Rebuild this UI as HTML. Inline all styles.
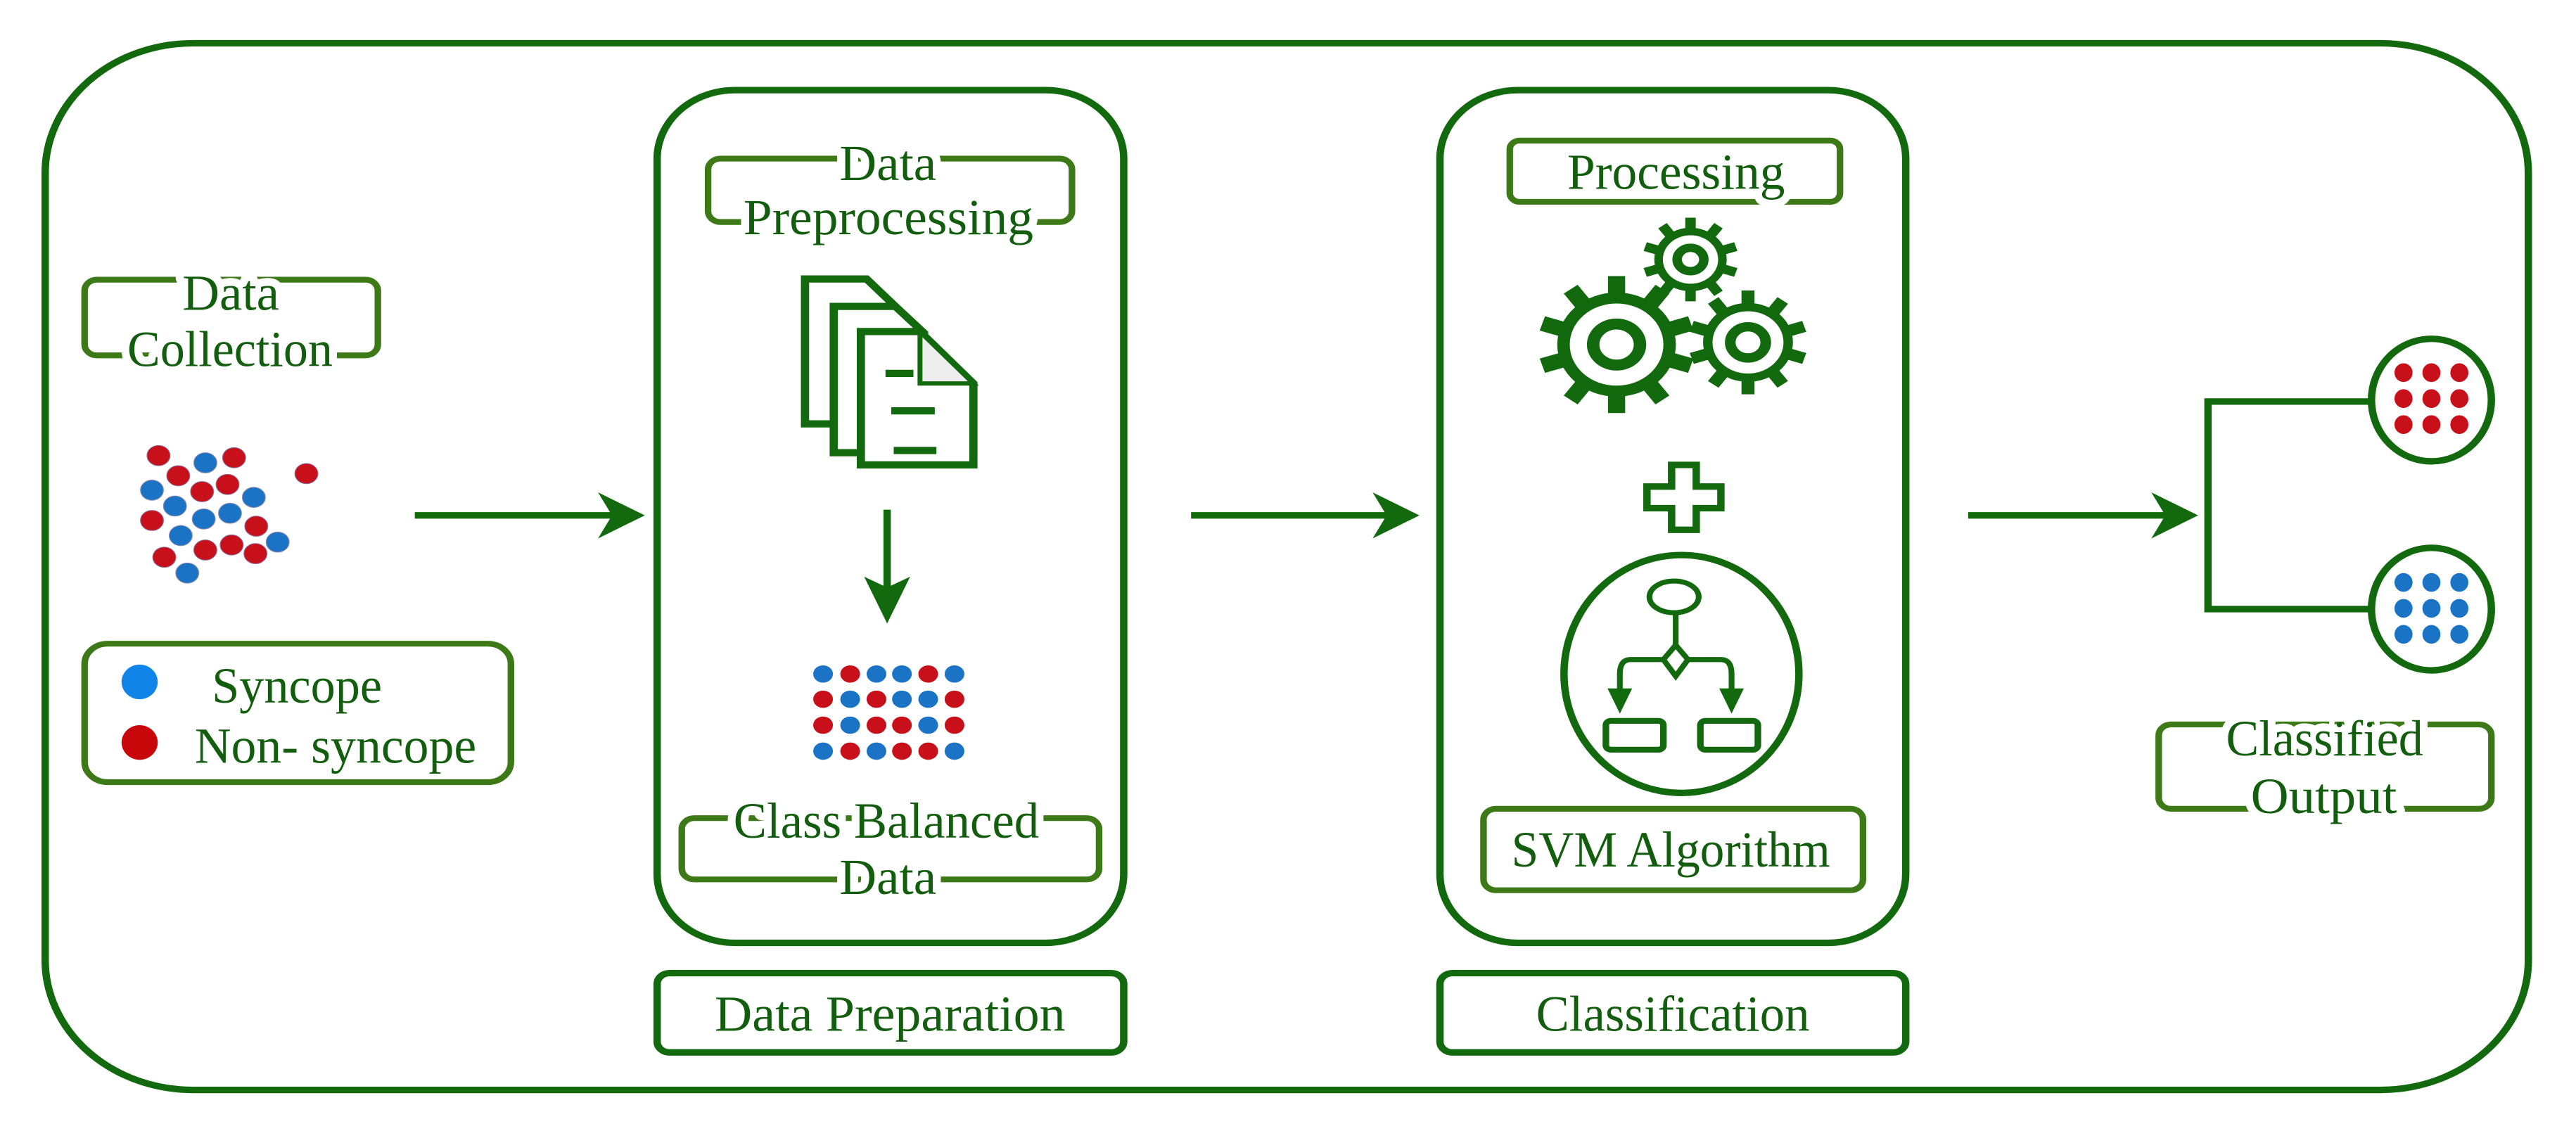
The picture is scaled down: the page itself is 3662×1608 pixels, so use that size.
<!DOCTYPE html>
<html><head><meta charset="utf-8"><style>
html,body{margin:0;padding:0;background:#fff;}
svg{display:block;}
text{font-family:"Liberation Serif",serif;fill:#135e0e;font-size:70px;}
.bg{paint-order:stroke;stroke:#fff;stroke-width:22px;stroke-linejoin:round;}
</style></head><body>
<svg width="3662" height="1608" viewBox="0 0 3136 1569" preserveAspectRatio="none" xmlns="http://www.w3.org/2000/svg">
<defs>
<g id="tooth"><rect x="-11" y="-100" width="22" height="30"/></g>
</defs>
<g fill="none" stroke="#13690e" stroke-width="9">
<rect x="55" y="60" width="3023" height="1452" rx="180" ry="180"/>
<rect x="800" y="125" width="568" height="1183" rx="95" ry="95"/>
<rect x="1753" y="125" width="567" height="1183" rx="95" ry="95"/>
<rect x="800" y="1350" width="568" height="110" rx="15"/>
<rect x="1753" y="1350" width="567" height="110" rx="15"/>
</g>
<g fill="none" stroke="#3d7a17" stroke-width="8">
<rect x="103" y="388" width="357" height="105" rx="15"/>
<rect x="103" y="893" width="519" height="192" rx="28"/>
<rect x="862" y="220" width="443" height="88" rx="15"/>
<rect x="830" y="1135" width="508" height="85" rx="15"/>
<rect x="1838" y="195" width="402" height="85" rx="12"/>
<rect x="1806" y="1122" width="462" height="113" rx="15"/>
<rect x="2628" y="1005" width="405" height="117" rx="15"/>
</g>
<!-- texts -->
<text class="bg" x="222" y="430" textLength="118" lengthAdjust="spacingAndGlyphs">Data</text>
<text class="bg" x="155" y="508" textLength="250" lengthAdjust="spacingAndGlyphs">Collection</text>
<text x="258" y="975" textLength="207" lengthAdjust="spacingAndGlyphs">Syncope</text>
<text x="237" y="1058" textLength="343" lengthAdjust="spacingAndGlyphs">Non- syncope</text>
<text class="bg" x="1022" y="250" textLength="118" lengthAdjust="spacingAndGlyphs">Data</text>
<text class="bg" x="905" y="325" textLength="353" lengthAdjust="spacingAndGlyphs">Preprocessing</text>
<text class="bg" x="893" y="1162" textLength="372" lengthAdjust="spacingAndGlyphs">Class Balanced</text>
<text class="bg" x="1022" y="1240" textLength="118" lengthAdjust="spacingAndGlyphs">Data</text>
<text x="870" y="1430" textLength="427" lengthAdjust="spacingAndGlyphs">Data Preparation</text>
<text x="1870" y="1430" textLength="333" lengthAdjust="spacingAndGlyphs">Classification</text>
<text class="bg" x="1908" y="262" textLength="265" lengthAdjust="spacingAndGlyphs">Processing</text>
<text x="1840" y="1202" textLength="388" lengthAdjust="spacingAndGlyphs">SVM Algorithm</text>
<text class="bg" x="2710" y="1048" textLength="240" lengthAdjust="spacingAndGlyphs">Classified</text>
<text class="bg" x="2740" y="1128" textLength="178" lengthAdjust="spacingAndGlyphs">Output</text>
<!-- legend dots -->
<ellipse cx="170" cy="946" rx="22" ry="24" fill="#1184ea"/>
<ellipse cx="170" cy="1030" rx="22" ry="24" fill="#c8070b"/>
<!-- scatter -->
<g fill="#c8101a" stroke="#8a6a9a" stroke-width="1">
<circle cx="193" cy="632" r="14"/><circle cx="285" cy="635" r="14"/><circle cx="217" cy="660" r="14"/><circle cx="246" cy="682" r="14"/><circle cx="277" cy="672" r="14"/><circle cx="185" cy="722" r="14"/><circle cx="312" cy="730" r="14"/><circle cx="200" cy="773" r="14"/><circle cx="250" cy="763" r="14"/><circle cx="282" cy="756" r="14"/><circle cx="311" cy="768" r="14"/><circle cx="373" cy="657" r="14"/>
</g>
<g fill="#1a73c4" stroke="#8a8ab0" stroke-width="1">
<circle cx="250" cy="642" r="14"/><circle cx="185" cy="680" r="14"/><circle cx="213" cy="702" r="14"/><circle cx="248" cy="720" r="14"/><circle cx="280" cy="712" r="14"/><circle cx="309" cy="690" r="14"/><circle cx="220" cy="743" r="14"/><circle cx="338" cy="752" r="14"/><circle cx="228" cy="795" r="14"/>
</g>
<!-- arrows -->
<g fill="#13690e" stroke="#13690e" stroke-width="9">
<line x1="505" y1="715" x2="745" y2="715"/>
<line x1="1450" y1="715" x2="1695" y2="715"/>
<line x1="2396" y1="715" x2="2640" y2="715"/>
<line x1="1080" y1="707" x2="1080" y2="820"/>
</g>
<g fill="#13690e">
<polygon points="728,683 785,715 728,747 745,715"/>
<polygon points="1671,683 1728,715 1671,747 1688,715"/>
<polygon points="2619,683 2676,715 2619,747 2636,715"/>
<polygon points="1052,800 1080,865 1108,800 1080,815"/>
</g>
<!-- documents -->
<g stroke="#13690e" stroke-width="10" fill="#fff" stroke-linejoin="miter">
<path d="M980 387 H1055 L1090 425 V588 H980 Z"/>
<path d="M1015 425 H1090 L1125 462 V628 H1015 Z"/>
<path d="M1048 460 H1120 L1185 532 V645 H1048 Z"/>
<path d="M1120 460 V532 H1185 Z" fill="#eee" stroke-width="6"/>
<line x1="1078" y1="518" x2="1112" y2="518"/>
<line x1="1085" y1="570" x2="1138" y2="570"/>
<line x1="1088" y1="625" x2="1140" y2="625"/>
</g>
<!-- grid -->
<g>
<circle cx="1002" cy="935" r="12" fill="#1a73c4"/><circle cx="1035" cy="935" r="12" fill="#c8101a"/><circle cx="1067" cy="935" r="12" fill="#1a73c4"/><circle cx="1098" cy="935" r="12" fill="#1a73c4"/><circle cx="1130" cy="935" r="12" fill="#c8101a"/><circle cx="1162" cy="935" r="12" fill="#1a73c4"/>
<circle cx="1002" cy="970" r="12" fill="#c8101a"/><circle cx="1035" cy="970" r="12" fill="#1a73c4"/><circle cx="1067" cy="970" r="12" fill="#c8101a"/><circle cx="1098" cy="970" r="12" fill="#1a73c4"/><circle cx="1130" cy="970" r="12" fill="#1a73c4"/><circle cx="1162" cy="970" r="12" fill="#c8101a"/>
<circle cx="1002" cy="1006" r="12" fill="#c8101a"/><circle cx="1035" cy="1006" r="12" fill="#1a73c4"/><circle cx="1067" cy="1006" r="12" fill="#c8101a"/><circle cx="1098" cy="1006" r="12" fill="#c8101a"/><circle cx="1130" cy="1006" r="12" fill="#1a73c4"/><circle cx="1162" cy="1006" r="12" fill="#c8101a"/>
<circle cx="1002" cy="1042" r="12" fill="#1a73c4"/><circle cx="1035" cy="1042" r="12" fill="#c8101a"/><circle cx="1067" cy="1042" r="12" fill="#1a73c4"/><circle cx="1098" cy="1042" r="12" fill="#c8101a"/><circle cx="1130" cy="1042" r="12" fill="#c8101a"/><circle cx="1162" cy="1042" r="12" fill="#1a73c4"/>
</g>
<!-- gears -->
<g fill="#13690e">
<g transform="translate(1968,478) scale(0.95)">
<g id="gearT"><use href="#tooth"/><use href="#tooth" transform="rotate(36)"/><use href="#tooth" transform="rotate(72)"/><use href="#tooth" transform="rotate(108)"/><use href="#tooth" transform="rotate(144)"/><use href="#tooth" transform="rotate(180)"/><use href="#tooth" transform="rotate(216)"/><use href="#tooth" transform="rotate(252)"/><use href="#tooth" transform="rotate(288)"/><use href="#tooth" transform="rotate(324)"/></g>
<circle r="76"/><circle r="60" fill="#fff"/><circle r="30" fill="none" stroke="#13690e" stroke-width="16"/>
</g>
<g transform="translate(2128,475) scale(0.72)">
<use href="#gearT"/><circle r="76"/><circle r="60" fill="#fff"/><circle r="30" fill="none" stroke="#13690e" stroke-width="18"/>
</g>
<g transform="translate(2058,360) scale(0.58)">
<use href="#gearT"/><circle r="76"/><circle r="58" fill="#fff"/><circle r="28" fill="none" stroke="#13690e" stroke-width="20"/>
</g>
</g>
<!-- plus -->
<path d="M2035 645 H2065 V675 H2095 V705 H2065 V735 H2035 V705 H2005 V675 H2035 Z" fill="#fff" stroke="#13690e" stroke-width="9"/>
<!-- flowchart circle -->
<g fill="none" stroke="#13690e" stroke-width="9">
<ellipse cx="2047" cy="935" rx="143" ry="165"/>
<ellipse cx="2038" cy="828" rx="30" ry="22" stroke-width="7"/>
<line x1="2040" y1="850" x2="2040" y2="895" stroke-width="7"/>
<path d="M2040 895 L2055 915 L2040 938 L2025 915 Z" stroke-width="7"/>
<path d="M2025 915 H1985 Q1972 915 1972 935 V965" stroke-width="7"/>
<path d="M2055 915 H2095 Q2108 915 2108 935 V965" stroke-width="7"/>
<rect x="1955" y="1000" width="70" height="40" rx="6" stroke-width="8"/>
<rect x="2070" y="1000" width="70" height="40" rx="6" stroke-width="8"/>
</g>
<g fill="#13690e">
<polygon points="1957,955 1972,990 1987,955"/>
<polygon points="2093,955 2108,990 2123,955"/>
</g>
<!-- tree -->
<g fill="none" stroke="#13690e" stroke-width="9">
<polyline points="2886,557 2688,557 2688,845 2886,845"/>
<ellipse cx="2960" cy="555" rx="73" ry="85"/>
<ellipse cx="2960" cy="845" rx="73" ry="85"/>
</g>
<g fill="#c8101a">
<ellipse cx="2926" cy="517" rx="11" ry="13"/><ellipse cx="2960" cy="517" rx="11" ry="13"/><ellipse cx="2994" cy="517" rx="11" ry="13"/>
<ellipse cx="2926" cy="553" rx="11" ry="13"/><ellipse cx="2960" cy="553" rx="11" ry="13"/><ellipse cx="2994" cy="553" rx="11" ry="13"/>
<ellipse cx="2926" cy="589" rx="11" ry="13"/><ellipse cx="2960" cy="589" rx="11" ry="13"/><ellipse cx="2994" cy="589" rx="11" ry="13"/>
</g>
<g fill="#1a73c4">
<ellipse cx="2926" cy="808" rx="11" ry="13"/><ellipse cx="2960" cy="808" rx="11" ry="13"/><ellipse cx="2994" cy="808" rx="11" ry="13"/>
<ellipse cx="2926" cy="844" rx="11" ry="13"/><ellipse cx="2960" cy="844" rx="11" ry="13"/><ellipse cx="2994" cy="844" rx="11" ry="13"/>
<ellipse cx="2926" cy="880" rx="11" ry="13"/><ellipse cx="2960" cy="880" rx="11" ry="13"/><ellipse cx="2994" cy="880" rx="11" ry="13"/>
</g>
</svg>
</body></html>
